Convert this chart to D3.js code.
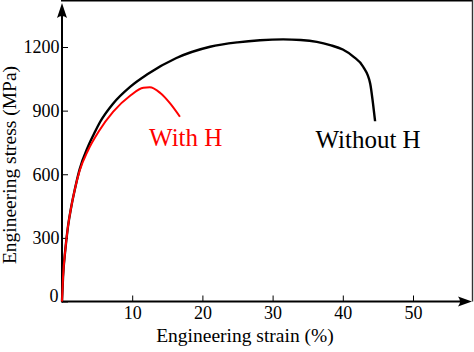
<!DOCTYPE html>
<html><head><meta charset="utf-8">
<script src="https://cdn.jsdelivr.net/npm/d3@7"></script>
<style>body{margin:0;background:#fff}svg{display:block}</style>
</head><body>
<svg id="c" width="474" height="352"></svg>
<script>
const xTicks = [10, 20, 30, 40, 50];
const yTicks = [0, 300, 600, 900, 1200];
const withoutH_strain = [0, 0.15, 0.47, 0.85, 1.32, 1.81, 2.5, 3.7, 4.7, 5.4, 7.3, 9.7, 12.1, 16.3, 21.1, 25, 28.2, 31.5, 34, 36.3, 38.2, 40.0, 41.5, 42.9, 43.9, 44.3, 44.6];
const withoutH_stress = [0, 117, 243, 353, 447, 526, 622, 730, 800, 845, 934, 1012, 1070, 1148, 1201, 1222, 1232, 1236, 1233, 1224, 1209, 1188, 1155, 1107, 1028, 934, 850];
const withH_strain = [0, 0.15, 0.47, 0.85, 1.32, 1.81, 2.5, 3.7, 5.2, 7.3, 9.7, 11.6, 12.5, 14.0, 15.4, 16.8];
const withH_stress = [0, 117, 243, 353, 447, 526, 615, 712, 800, 895, 970, 1008, 1010, 983, 934, 871];
const labels = ["With H", "Without H"];

const FONT = '"Liberation Serif","Times New Roman",Times,Tinos,"DejaVu Serif","Noto Serif",FreeSerif,serif';
const svg = d3.select("#c");
const fs = (sel, size) => sel.attr("font-family", FONT).attr("font-size", size);
const x = d3.scaleLinear().domain([0, 50]).range([62, 413]);
const y = d3.scaleLinear().domain([0, 1200]).range([301.5, 47]);
const xEnd = 472, yTop = 3;

// frame top and right
svg.append("line").attr("x1", 61).attr("x2", 473).attr("y1", 0.8).attr("y2", 0.8)
  .attr("stroke", "#000").attr("stroke-width", 1.6);
svg.append("line").attr("x1", 472.5).attr("x2", 472.5).attr("y1", 0).attr("y2", y(0))
  .attr("stroke", "#333").attr("stroke-width", 1.4);

// axes
const gx = svg.append("g").attr("transform", `translate(0,${y(0)})`)
  .call(d3.axisBottom(x).tickValues(xTicks).tickFormat(d3.format("d")).tickSize(-6).tickPadding(5));
gx.select(".domain").remove();
gx.selectAll("line").attr("stroke", "#000").attr("stroke-width", 1);
fs(gx, 18);
gx.selectAll("text").attr("fill", "#000");

const gy = svg.append("g").attr("transform", `translate(${x(0)},0)`)
  .call(d3.axisLeft(y).tickValues(yTicks).tickFormat(d3.format("d")).tickSize(-6).tickPadding(2.5));
gy.select(".domain").remove();
gy.selectAll("line").attr("stroke", "#000").attr("stroke-width", 1);
fs(gy, 18);
gy.selectAll("text").attr("fill", "#000")
  .attr("transform", d => d === 0 ? "translate(-1,-6)" : null);

// axis lines with arrowheads
svg.append("line").attr("x1", x(0)).attr("x2", xEnd - 6).attr("y1", y(0)).attr("y2", y(0))
  .attr("stroke", "#000").attr("stroke-width", 2);
svg.append("line").attr("x1", x(0)).attr("x2", x(0)).attr("y1", y(0) + 1).attr("y2", yTop + 6)
  .attr("stroke", "#000").attr("stroke-width", 2);
const ax = xEnd, ay = y(0);
svg.append("path").attr("d", `M${ax},${ay} L${ax-14},${ay-5} Q${ax-10},${ay} ${ax-14},${ay+5} Z`).attr("fill", "#000");
const bx = x(0), by = yTop;
svg.append("path").attr("d", `M${bx},${by} L${bx-5},${by+15} Q${bx},${by+11} ${bx+5},${by+15} Z`).attr("fill", "#000");

// curves
const line = d3.line().x(d => x(d[0])).y(d => y(d[1])).curve(d3.curveMonotoneX);
const blackData = withoutH_strain.map((v, i) => [v, withoutH_stress[i]]);
const redData = withH_strain.map((v, i) => [v, withH_stress[i]]);
svg.append("path").attr("d", line(blackData)).attr("fill", "none").attr("stroke", "#000").attr("stroke-width", 2.4);
svg.append("path").attr("d", line(redData)).attr("fill", "none").attr("stroke", "#f00").attr("stroke-width", 2);

// curve labels
fs(svg.append("text").attr("x", x(12.4)).attr("y", y(735)).text(labels[0]), 25).attr("fill", "#f00");
fs(svg.append("text").attr("x", x(36.1)).attr("y", y(722)).text(labels[1]), 25).attr("fill", "#000");

// axis titles
fs(svg.append("text").attr("x", 245).attr("y", 342).attr("text-anchor", "middle")
  .text("Engineering strain (%)"), 19.5);
fs(svg.append("text").attr("transform", "translate(15.5,165) rotate(-90)").attr("text-anchor", "middle")
  .text("Engineering stress (MPa)"), 19.5);
</script>
</body></html>
